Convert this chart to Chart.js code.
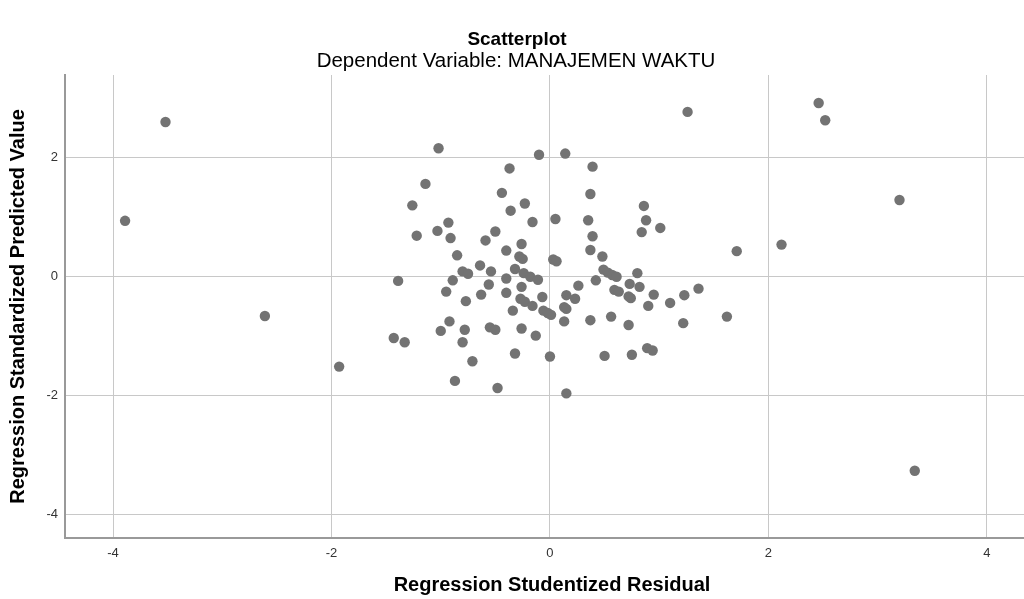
<!DOCTYPE html>
<html>
<head>
<meta charset="utf-8">
<script src="https://cdn.jsdelivr.net/npm/chart.js@4"></script>
<style>
  html, body { margin: 0; padding: 0; background: #fff; }
</style>
</head>
<body>
<canvas id="scatter" width="1024" height="599"></canvas>
<script>
const mainTitle = 'Scatterplot'
const subTitle = 'Dependent Variable: MANAJEMEN WAKTU'
const xTitle = 'Regression Studentized Residual'
const yTitle = 'Regression Standardized Predicted Value'

const xTicks = [-4, -2, 0, 2, 4]
const yTicks = [-4, -2, 0, 2]

// studentized residual (x) and standardized predicted value (y)
const residuals = [
  -3.89, -3.52, -2.61, -1.93, -1.43, -1.33, -1.39, 1.26, 2.46, 2.52, 3.20, 2.12, 1.71, 3.34, 1.36, 1.62,
  -1.02, -0.10, 0.14, -0.37, -1.14, -0.44, -1.26, -0.23, -0.36, -0.16, 0.05, -0.93, -1.22, -1.03, -0.91, -0.50,
  -0.59, -0.26, -0.40, -0.85, -0.28, -0.25, 0.03, 0.06, -0.64, -0.54, -0.80, -0.75, -0.32, -0.24, -0.18, -0.11,
  -0.40, -0.89,
  0.39, 0.37, 0.86, 0.35, 0.88, 1.01, 0.84, 0.39, 0.37, 0.48, 0.49, 0.53, 0.57, 0.61, 0.80, 0.42,
  -0.56, -0.26, -0.95, -0.63, -0.40, -0.07, 0.15, -0.77, -0.27, -0.23, -0.16, -0.34, -0.06, -0.02, 0.01, 0.13,
  0.15, 0.13, -0.92, -1.00, -0.78, -0.55, -0.50, -0.26, -0.13, -0.80, -0.71, -0.32, 0.00, -0.87, -0.48, 0.15,
  0.26, 0.73, 0.82, 0.59, 0.63, 0.23, 0.72, 0.74, 0.95, 1.23, 1.10, 0.90, 0.37, 0.56, 0.72, 1.22,
  0.50, 0.75, 0.89, 0.94
]
const predicted = [
  0.94, 2.60, -0.66, -1.51, -1.03, -1.10, -0.07, 2.77, 2.92, 2.63, 1.29, 0.54, 0.43, -3.26, -0.20, -0.67,
  2.16, 2.05, 2.07, 1.82, 1.56, 1.41, 1.20, 1.23, 1.11, 0.92, 0.97, 0.91, 0.69, 0.77, 0.65, 0.76,
  0.61, 0.55, 0.44, 0.36, 0.34, 0.30, 0.29, 0.26, 0.19, 0.09, 0.09, 0.05, 0.13, 0.06, 0.00, -0.05,
  -0.03, -0.06,
  1.85, 1.39, 1.19, 0.95, 0.95, 0.82, 0.75, 0.68, 0.45, 0.34, 0.12, 0.07, 0.03, 0.00, 0.06, -0.06,
  -0.13, -0.17, -0.25, -0.30, -0.27, -0.34, -0.31, -0.41, -0.37, -0.42, -0.49, -0.57, -0.57, -0.61, -0.64, -0.51,
  -0.54, -0.75, -0.75, -0.91, -0.89, -0.85, -0.89, -0.87, -0.99, -1.10, -1.42, -1.29, -1.34, -1.75, -1.87, -1.96,
  -0.15, -0.12, -0.17, -0.22, -0.25, -0.37, -0.33, -0.36, -0.30, -0.31, -0.44, -0.49, -0.73, -0.67, -0.81, -0.78,
  -1.33, -1.31, -1.20, -1.24
]

const fontFamily = 'Arial, "Liberation Sans", sans-serif'

// titles sit a bit off the plot centre in the original, so they are drawn by hand
const titlePlugin = {
  id: 'titles',
  afterDraw(chart) {
    const ctx = chart.ctx
    ctx.save()
    ctx.fillStyle = '#000'
    ctx.textAlign = 'center'
    ctx.textBaseline = 'middle'
    ctx.font = `bold 19px ${fontFamily}`
    ctx.fillText(mainTitle, 517, 40)
    ctx.font = `20.5px ${fontFamily}`
    ctx.fillText(subTitle, 516, 61)
    ctx.font = `bold 20px ${fontFamily}`
    ctx.textBaseline = 'alphabetic'
    ctx.fillText(xTitle, 552, 591)
    ctx.restore()
  }
}

new Chart(document.getElementById('scatter'), {
  type: 'scatter',
  data: {
    datasets: [{
      data: residuals.map((x, i) => ({ x: x, y: predicted[i] })),
      backgroundColor: '#737373',
      borderWidth: 0,
      pointRadius: 5.2,
    }]
  },
  options: {
    responsive: false,
    animation: false,
    layout: { autoPadding: false, padding: { top: 75, left: 0, right: 0, bottom: 0 } },
    plugins: {
      legend: { display: false },
      tooltip: { enabled: false },
    },
    scales: {
      x: {
        type: 'linear',
        min: -4.44,
        max: 4.34,
        afterBuildTicks: scale => { scale.ticks = xTicks.map(v => ({ value: v })) },
        afterFit: scale => {
          scale.height = 61
          scale.paddingLeft = 0
          scale.paddingRight = 0
        },
        grid: { color: '#c8c8c8', lineWidth: 1, drawTicks: false },
        border: { display: true, color: '#999999', width: 2 },
        ticks: { padding: 8, color: '#333', font: { family: fontFamily, size: 13 } },
      },
      y: {
        type: 'linear',
        min: -4.39,
        max: 3.39,
        afterBuildTicks: scale => { scale.ticks = yTicks.map(v => ({ value: v })) },
        afterFit: scale => { scale.width = 65 },
        grid: { color: '#c8c8c8', lineWidth: 1, drawTicks: false },
        border: { display: true, color: '#999999', width: 2 },
        ticks: { padding: 7, color: '#333', font: { family: fontFamily, size: 13 } },
        title: {
          display: true,
          text: yTitle,
          color: '#000',
          font: { family: fontFamily, size: 20, weight: 'bold', lineHeight: 1.2 },
          padding: { top: 6, bottom: 0 },
        },
      },
    },
  },
  plugins: [titlePlugin],
})
</script>
</body>
</html>
